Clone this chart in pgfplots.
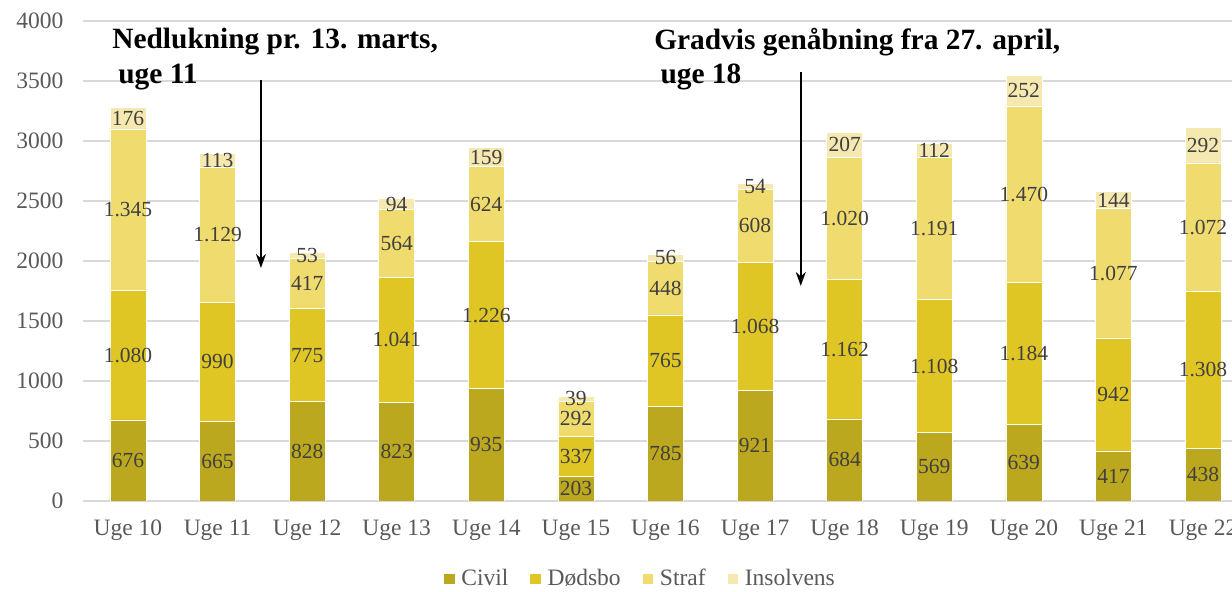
\documentclass[border=0pt]{standalone}
\usepackage{fontspec}
\setmainfont{Liberation Serif}
\usepackage{pgfplots}
\pgfplotsset{compat=1.18}
\usetikzlibrary{arrows.meta}
\definecolor{cCivil}{HTML}{BBA81E}
\definecolor{cDods}{HTML}{DFC624}
\definecolor{cStraf}{HTML}{EFDB6E}
\definecolor{cInsol}{HTML}{F5E8B0}
\definecolor{tickgray}{HTML}{595959}
\definecolor{labgray}{HTML}{404040}
\definecolor{gridgray}{HTML}{D9D9D9}
\begin{document}
\begin{tikzpicture}
\useasboundingbox (0,0) rectangle (616pt,296pt);
\begin{axis}[
  at={(41.6pt,45.5pt)}, anchor=south west,
  scale only axis, width=582.3pt, height=240pt,
  ybar stacked, bar width=18pt,
  xmin=-0.5, xmax=12.5, ymin=0, ymax=4000,
  xtick={0,...,12},
  xticklabels={Uge 10,Uge 11,Uge 12,Uge 13,Uge 14,Uge 15,Uge 16,Uge 17,Uge 18,Uge 19,Uge 20,Uge 21,Uge 22},
  ytick={0,500,...,4000},
  axis line style={draw=none}, major tick length=0pt,
  ymajorgrids, grid style={gridgray, line width=0.8pt},
  /pgf/number format/assume math mode=true,
  yticklabel style={/pgf/number format/1000 sep={}, font=\fontsize{11.75}{14}\selectfont, text=tickgray, xshift=-6.4pt},
  xticklabel style={font=\fontsize{11.75}{14}\selectfont, text=tickgray, yshift=-6pt},
  point meta=rawy,
  nodes near coords={\pgfmathprintnumber[1000 sep={.}]{\pgfplotspointmeta}},
  every node near coord/.append style={font=\fontsize{10.75}{12}\selectfont, text=labgray, anchor=center, inner sep=0pt},
  legend columns=4,
  legend style={at={(0.479,0)}, anchor=center, yshift=-39pt, draw=none, fill=none,
    font=\fontsize{11.75}{14}\selectfont, text=tickgray,
    /tikz/every odd column/.append style={column sep=1pt},
    /tikz/every even column/.append style={column sep=8.5pt}},
  legend image code/.code={\fill[#1] (0pt,-2.9pt) rectangle (5.8pt,2.9pt);},
]
\addplot[fill=cCivil, draw=white, line width=0.3pt] coordinates {(0,676) (1,665) (2,828) (3,823) (4,935) (5,203) (6,785) (7,921) (8,684) (9,569) (10,639) (11,417) (12,438)};
\addplot[fill=cDods, draw=white, line width=0.3pt] coordinates {(0,1080) (1,990) (2,775) (3,1041) (4,1226) (5,337) (6,765) (7,1068) (8,1162) (9,1108) (10,1184) (11,942) (12,1308)};
\addplot[fill=cStraf, draw=white, line width=0.3pt] coordinates {(0,1345) (1,1129) (2,417) (3,564) (4,624) (5,292) (6,448) (7,608) (8,1020) (9,1191) (10,1470) (11,1077) (12,1072)};
\addplot[fill=cInsol, draw=white, line width=0.3pt] coordinates {(0,176) (1,113) (2,53) (3,94) (4,159) (5,39) (6,56) (7,54) (8,207) (9,112) (10,252) (11,144) (12,292)};
\legend{Civil,Dødsbo,Straf,Insolvens}
\node[anchor=west, inner sep=0pt, font=\fontsize{14.7}{17}\selectfont\bfseries] at (axis cs:-0.179,3825) {Nedlukning pr. 13. marts,};
\node[anchor=west, inner sep=0pt, font=\fontsize{14.7}{17}\selectfont\bfseries] at (axis cs:-0.112,3533) {uge 11};
\node[anchor=west, inner sep=0pt, font=\fontsize{14.7}{17}\selectfont\bfseries] at (axis cs:5.87,3825) {Gradvis genåbning fra 27. april,};
\node[anchor=west, inner sep=0pt, font=\fontsize{14.7}{17}\selectfont\bfseries] at (axis cs:5.94,3533) {uge 18};
\draw[-{Stealth[length=7pt,width=5pt]}, line width=0.9pt] (axis cs:1.484,3508) -- (axis cs:1.484,1942);
\draw[-{Stealth[length=7pt,width=5pt]}, line width=0.9pt] (axis cs:7.51,3575) -- (axis cs:7.51,1792);
\end{axis}
\end{tikzpicture}
\end{document}
